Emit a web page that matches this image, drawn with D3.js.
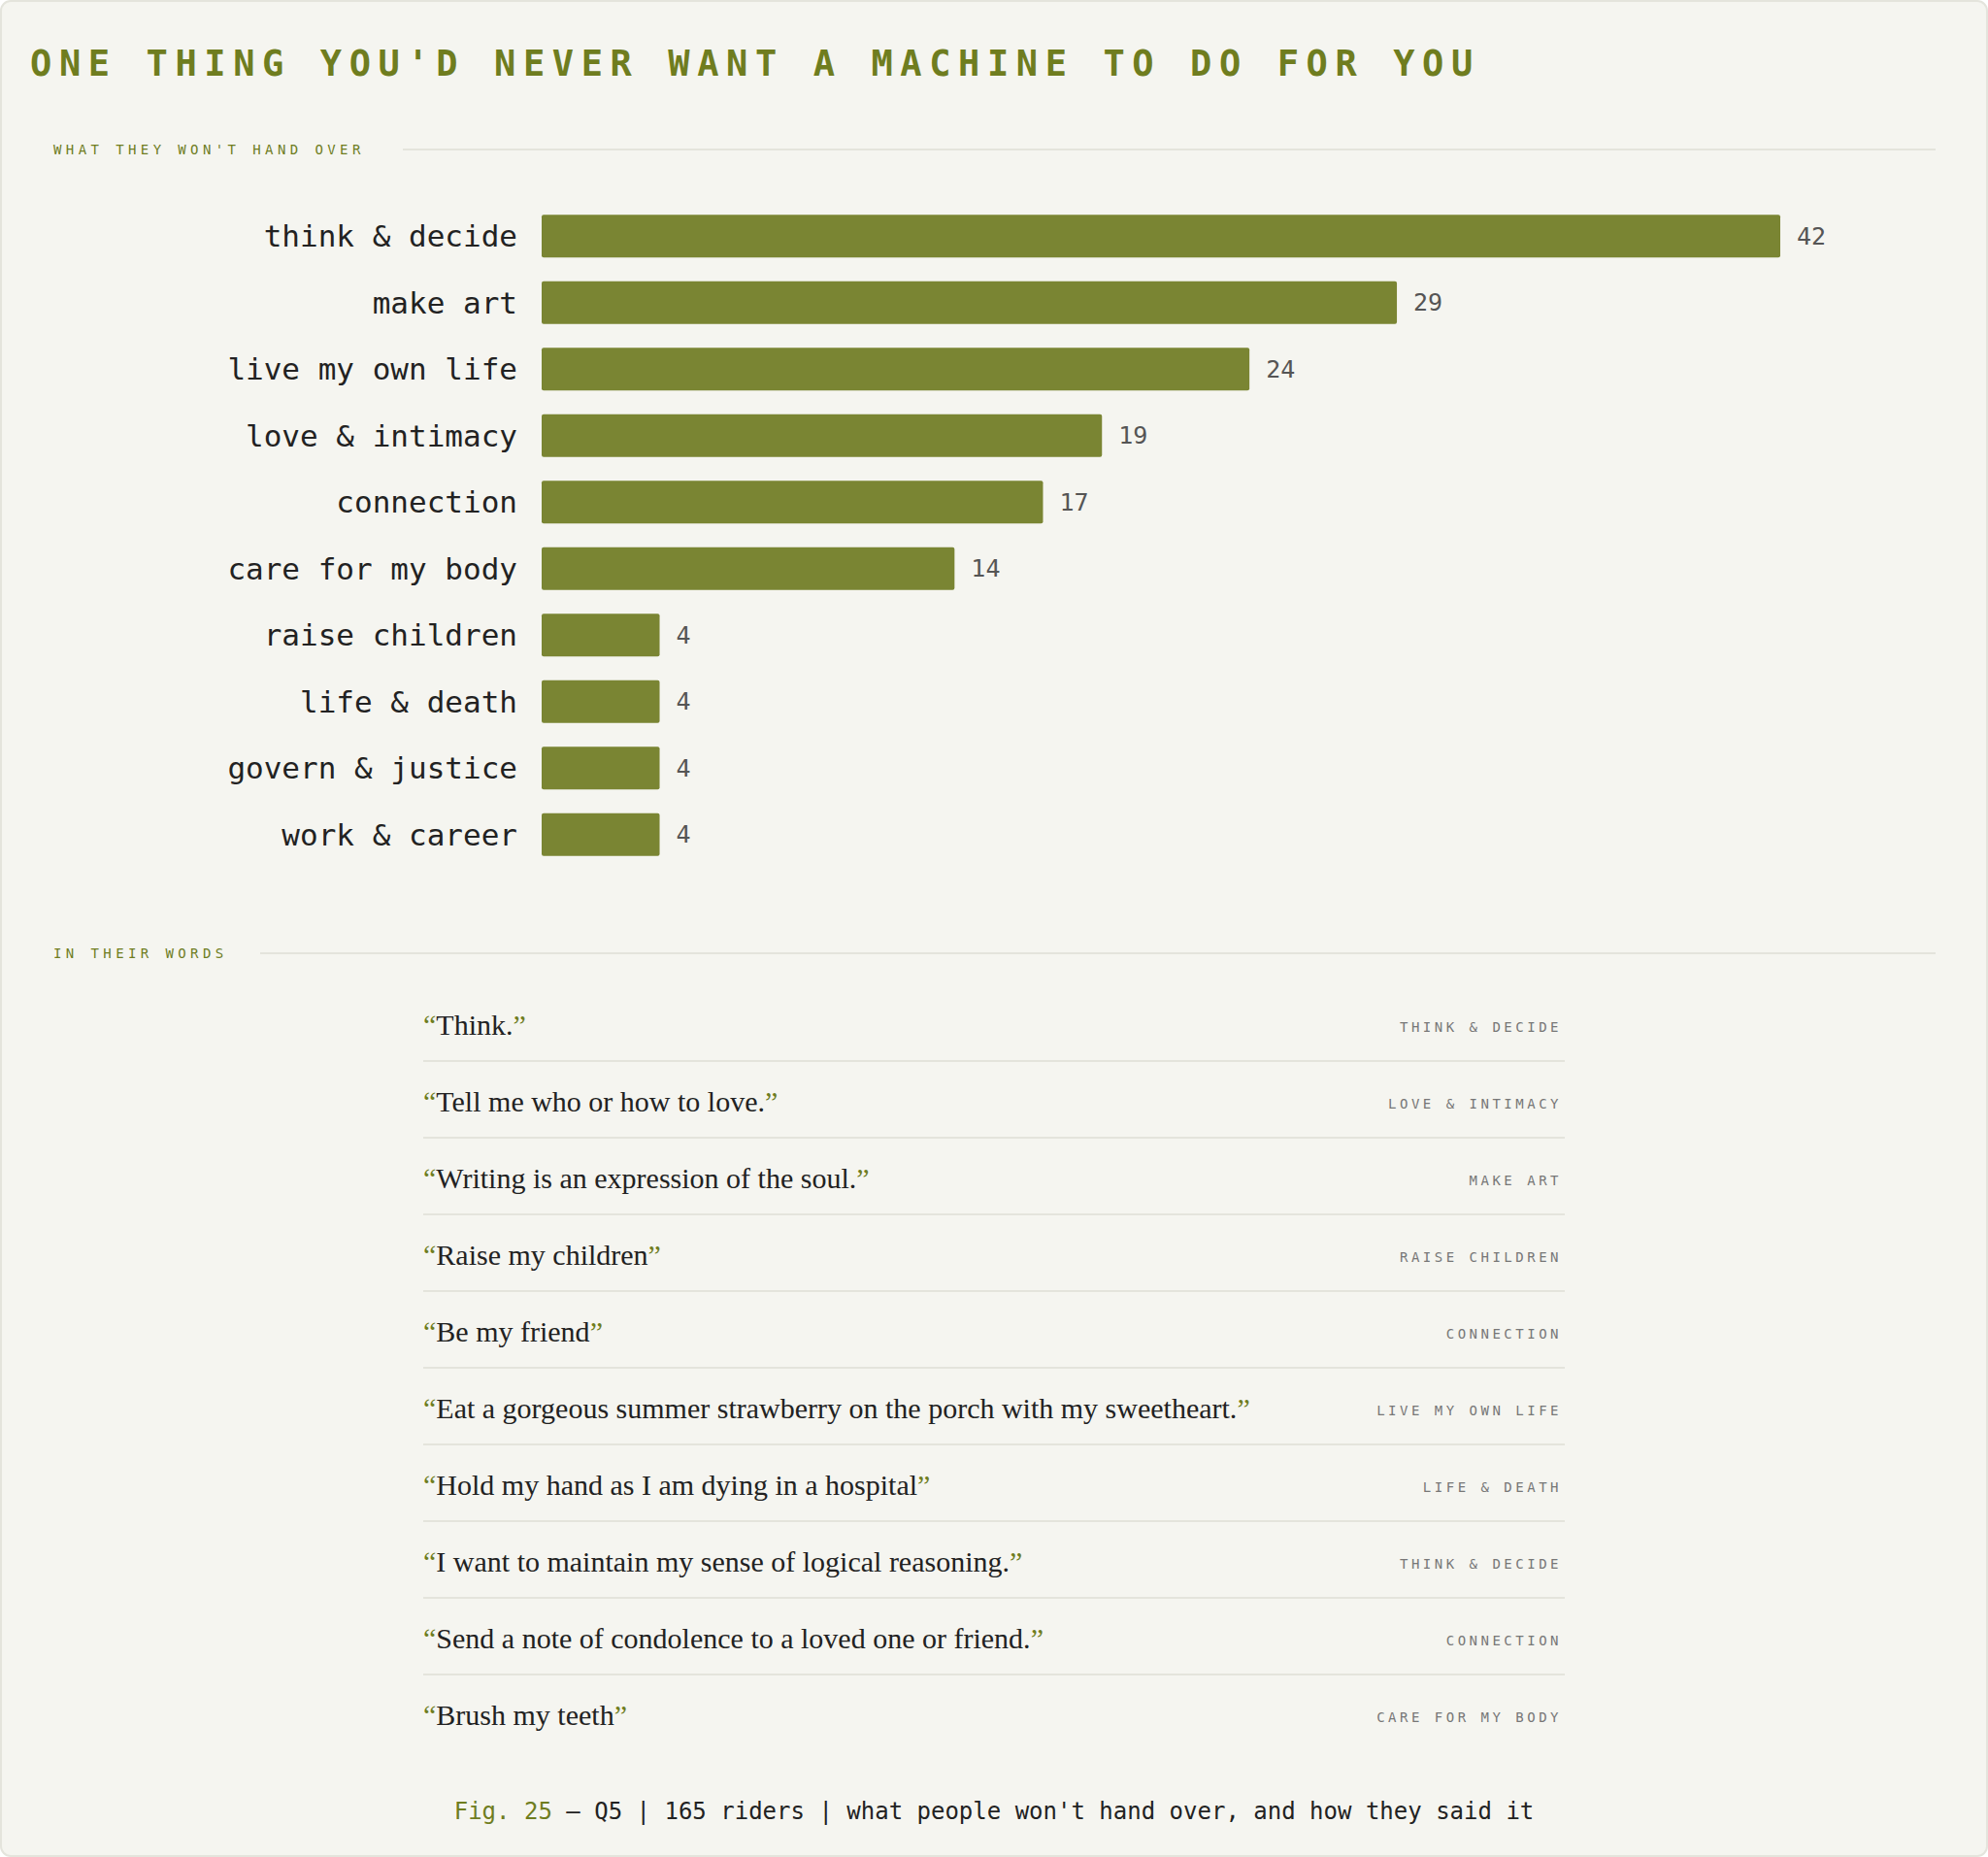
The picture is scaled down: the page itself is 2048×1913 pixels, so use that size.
<!DOCTYPE html>
<html>
<head>
<meta charset="utf-8">
<style>
body { margin:0; background:#fff; }
</style>
<script src="https://cdnjs.cloudflare.com/ajax/libs/d3/7.8.5/d3.min.js"></script>
</head>
<body>
<script>
// data
var categories = ["think & decide","make art","live my own life","love & intimacy","connection",
	"care for my body","raise children","life & death","govern & justice","work & career"];
var counts = [42,29,24,19,17,14,4,4,4,4];
var quotes = ["Think.","Tell me who or how to love.","Writing is an expression of the soul.","Raise my children",
	"Be my friend","Eat a gorgeous summer strawberry on the porch with my sweetheart.",
	"Hold my hand as I am dying in a hospital","I want to maintain my sense of logical reasoning.",
	"Send a note of condolence to a loved one or friend.","Brush my teeth"];
var quoteTags = ["think & decide","love & intimacy","make art","raise children","connection",
	"live my own life","life & death","think & decide","connection","care for my body"];

var width = 2048, height = 1913;
var mono = "'DejaVu Sans Mono', monospace";
var green = "#6f7d1f", bar = "#7a8533";

var svg = d3.select("body").append("svg")
	.attr("width", width).attr("height", height);

svg.append("rect").attr("x", 1).attr("y", 1).attr("width", width - 2).attr("height", height - 2)
	.attr("rx", 10).style("fill", "#f5f5f0").style("stroke", "#e4e4dc").style("stroke-width", 2);

svg.append("text").attr("x", 31).attr("y", 78)
	.style("font-family", mono).style("font-weight", "bold").style("font-size", "37px")
	.style("letter-spacing", "7.6px").style("fill", green)
	.text("ONE THING YOU'D NEVER WANT A MACHINE TO DO FOR YOU");

function section(label, y, lineX) {
	svg.append("text").attr("x", 55).attr("y", y + 5)
		.style("font-family", mono).style("font-size", "14px").style("letter-spacing", "4.4px")
		.style("fill", green).text(label);
	svg.append("line").attr("x1", lineX).attr("x2", 1994).attr("y1", y).attr("y2", y)
		.style("stroke", "#e4e4dc").style("stroke-width", 2);
}
section("WHAT THEY WON'T HAND OVER", 154, 415);
section("IN THEIR WORDS", 982, 268);

// bars
var x = d3.scaleLinear().domain([0, 42]).range([558, 1834]);
var y = d3.scaleBand().domain(categories).range([209, 209 + 68.5 * categories.length]).paddingInner(0.36).paddingOuter(0.18);

var rows = svg.selectAll("g.bar").data(categories).enter().append("g")
	.attr("transform", function(d) { return "translate(0," + y(d) + ")"; });
rows.append("rect").attr("x", x(0)).attr("width", function(d, i) { return x(counts[i]) - x(0); })
	.attr("height", y.bandwidth()).attr("rx", 2).style("fill", bar);
rows.append("text").attr("x", 533).attr("y", y.bandwidth() / 2).attr("dy", "0.35em")
	.attr("text-anchor", "end").style("font-family", mono).style("font-size", "31px").style("fill", "#222")
	.text(function(d) { return d; });
rows.append("text").attr("x", function(d, i) { return x(counts[i]) + 17; }).attr("y", y.bandwidth() / 2).attr("dy", "0.35em")
	.style("font-family", mono).style("font-size", "25px").style("fill", "#555")
	.text(function(d, i) { return counts[i]; });

// quotes
var qy = d3.scaleBand().domain(d3.range(quotes.length)).range([1016, 1016 + 79 * quotes.length]);
var q = svg.selectAll("g.quote").data(quotes).enter().append("g")
	.attr("transform", function(d, i) { return "translate(0," + qy(i) + ")"; });
var qt = q.append("text").attr("x", 436).attr("y", 39).attr("dy", "0.35em")
	.style("font-family", "'Liberation Serif', serif").style("font-size", "30px").style("fill", "#222");
qt.append("tspan").style("fill", green).text("\u201C");
qt.append("tspan").text(function(d) { return d; });
qt.append("tspan").style("fill", green).text("\u201D");
q.append("text").attr("x", 1609).attr("y", 42).attr("dy", "0.35em").attr("text-anchor", "end")
	.style("font-family", mono).style("font-size", "14px").style("letter-spacing", "3.5px").style("fill", "#777")
	.text(function(d, i) { return quoteTags[i].toUpperCase(); });
q.filter(function(d, i) { return i < quotes.length - 1; }).append("line")
	.attr("x1", 436).attr("x2", 1612).attr("y1", 77).attr("y2", 77)
	.style("stroke", "#e4e4dc").style("stroke-width", 2);

// footer
var f = svg.append("text").attr("x", 1024).attr("y", 1874).attr("text-anchor", "middle")
	.style("font-family", mono).style("font-size", "24px").style("fill", "#222");
f.append("tspan").style("fill", green).text("Fig. 25");
f.append("tspan").text(" \u2014 Q5 | 165 riders | what people won't hand over, and how they said it");
</script>
</body>
</html>
